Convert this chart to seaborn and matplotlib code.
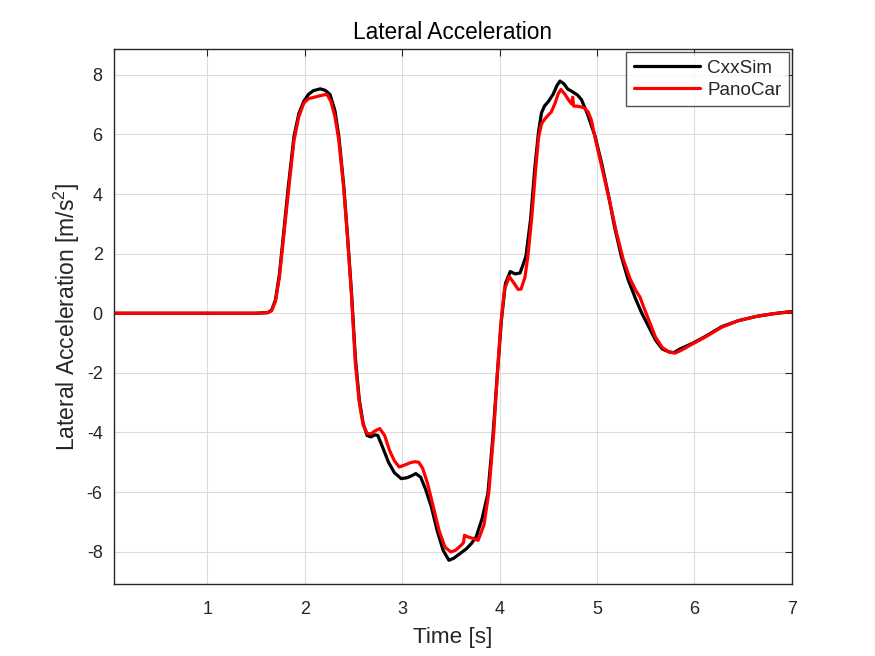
import pandas as pd
import seaborn as sns
import matplotlib
matplotlib.use("Agg")
import matplotlib.pyplot as plt

# CxxSim trace (time [s], lateral acceleration [m/s^2])
cxx_t = [0.04, 0.5, 1.0, 1.5, 1.62, 1.66, 1.70, 1.74, 1.78, 1.83, 1.89, 1.94, 1.99, 2.04, 2.09,
         2.16, 2.21, 2.26, 2.31, 2.35, 2.40, 2.44, 2.48, 2.52, 2.56, 2.60, 2.64, 2.68, 2.72, 2.75,
         2.80, 2.86, 2.92, 2.99, 3.05, 3.10, 3.14, 3.19, 3.24, 3.30, 3.36, 3.42, 3.48, 3.53, 3.60,
         3.66, 3.71, 3.76, 3.82, 3.88, 3.93, 3.98, 4.02, 4.06, 4.11, 4.16, 4.21, 4.27, 4.32, 4.36,
         4.40, 4.43, 4.46, 4.50, 4.55, 4.59, 4.62, 4.66, 4.70, 4.74, 4.80, 4.84, 4.90, 4.98, 5.05,
         5.12, 5.18, 5.25, 5.32, 5.40, 5.46, 5.53, 5.60, 5.67, 5.74, 5.79, 5.85, 5.98, 6.10, 6.28,
         6.45, 6.63, 6.80, 6.97, 7.0]
cxx_a = [0, 0, 0, 0, 0.02, 0.1, 0.45, 1.3, 2.57, 4.2, 5.94, 6.7, 7.11, 7.35, 7.47,
         7.53, 7.48, 7.34, 6.8, 5.94, 4.3, 2.57, 0.7, -1.5, -2.9, -3.7, -4.1, -4.15, -4.08, -4.1,
         -4.5, -5.0, -5.35, -5.55, -5.52, -5.45, -5.38, -5.5, -5.9, -6.5, -7.3, -7.95, -8.29, -8.22, -8.05,
         -7.9, -7.73, -7.5, -6.9, -6.05, -4.2, -1.9, -0.2, 1.0, 1.40, 1.32, 1.35, 1.9, 3.2, 4.82,
         6.1, 6.72, 6.95, 7.1, 7.35, 7.65, 7.79, 7.7, 7.52, 7.45, 7.32, 7.17, 6.7, 5.94, 5.0,
         3.92, 2.9, 1.9, 1.12, 0.45, 0.0, -0.45, -0.9, -1.2, -1.3, -1.32, -1.2, -1.01, -0.8, -0.45,
         -0.25, -0.11, -0.02, 0.05, 0.05]

# PanoCar trace
pano_t = [0.04, 0.5, 1.0, 1.5, 1.62, 1.66, 1.70, 1.74, 1.78, 1.83, 1.89, 1.94, 1.99, 2.04, 2.10,
          2.16, 2.20, 2.23, 2.27, 2.31, 2.35, 2.40, 2.44, 2.48, 2.52, 2.56, 2.60, 2.64, 2.68, 2.72,
          2.77, 2.82, 2.87, 2.92, 2.97, 3.02, 3.08, 3.13, 3.17, 3.21, 3.26, 3.32, 3.38, 3.44, 3.50,
          3.55, 3.60, 3.63, 3.64, 3.67, 3.72, 3.78, 3.84, 3.89, 3.94, 3.98, 4.01, 4.05, 4.10, 4.15,
          4.19, 4.22, 4.26, 4.29, 4.33, 4.37, 4.40, 4.43, 4.46, 4.50, 4.53, 4.57, 4.60, 4.63, 4.67,
          4.71, 4.74, 4.75, 4.76, 4.79, 4.84, 4.87, 4.91, 4.94, 5.00, 5.06, 5.13, 5.20, 5.27, 5.34,
          5.40, 5.44, 5.48, 5.54, 5.60, 5.67, 5.74, 5.80, 5.86, 5.98, 6.10, 6.28, 6.45, 6.63, 6.80,
          6.97, 7.0]
pano_a = [0, 0, 0, 0, 0.02, 0.08, 0.4, 1.2, 2.45, 4.0, 5.8, 6.6, 7.05, 7.2, 7.25,
          7.3, 7.33, 7.34, 7.1, 6.6, 5.8, 4.2, 2.5, 0.6, -1.7, -3.0, -3.75, -4.03, -4.05, -3.95,
          -3.87, -4.1, -4.6, -4.95, -5.16, -5.1, -5.02, -4.98, -5.0, -5.2, -5.7, -6.5, -7.3, -7.85, -8.01,
          -7.95, -7.8, -7.7, -7.45, -7.5, -7.55, -7.62, -7.1, -6.0, -4.0, -1.9, -0.45, 0.8, 1.23, 1.0,
          0.8, 0.81, 1.2, 1.9, 3.2, 4.82, 5.9, 6.35, 6.5, 6.65, 6.75, 7.05, 7.35, 7.51, 7.35,
          7.15, 7.02, 7.25, 6.95, 6.95, 6.92, 6.89, 6.75, 6.5, 5.6, 4.75, 3.75, 2.7, 1.8, 1.15,
          0.75, 0.55, 0.2, -0.3, -0.8, -1.15, -1.3, -1.34, -1.25, -1.03, -0.82, -0.47, -0.25, -0.11, -0.02,
          0.04, 0.04]

df = pd.concat([
    pd.DataFrame({"Time": cxx_t, "Acc": cxx_a, "Model": "CxxSim"}),
    pd.DataFrame({"Time": pano_t, "Acc": pano_a, "Model": "PanoCar"}),
], ignore_index=True)

sns.set_style("white")
plt.rcParams["font.family"] = ["Liberation Sans", "DejaVu Sans"]
plt.rcParams["mathtext.fontset"] = "custom"
plt.rcParams["mathtext.rm"] = "Liberation Sans"
plt.rcParams["mathtext.it"] = "Liberation Sans:italic"
plt.rcParams["axes.unicode_minus"] = False

fig = plt.figure(figsize=(8.75, 6.56), dpi=100)
ax = fig.add_axes([0.13, 0.11, 0.775, 0.815])

sns.lineplot(data=df, x="Time", y="Acc", hue="Model", palette={"CxxSim": "black", "PanoCar": "red"},
             estimator=None, sort=False, linewidth=2.3, ax=ax)

ax.set_xlim(0.04, 7.0)
ax.set_ylim(-9.08, 8.86)
ax.set_xticks(range(1, 8))
ax.set_yticks(range(-8, 9, 2))
ax.grid(True, color="#dcdcdc", linewidth=0.8)
ax.set_axisbelow(True)
for s in ax.spines.values():
    s.set_color("#262626")
    s.set_linewidth(1.0)
ax.tick_params(direction="in", top=True, right=True, length=5, width=0.8,
               colors="#262626", labelsize=13)
ax.tick_params(axis="x", pad=12)
ax.tick_params(axis="y", pad=8)

ax.set_title("Lateral Acceleration", fontsize=16.3, color="black", pad=7)
ax.set_xlabel("Time [s]", fontsize=16.2, color="#262626", labelpad=7)
ax.set_ylabel(r"Lateral Acceleration [m/s$^2$]", fontsize=16.5, color="#262626", labelpad=3)

leg = ax.legend(loc="upper right", fontsize=13.6, frameon=True, fancybox=False, handlelength=3.5,
                borderaxespad=0.15, borderpad=0.4, labelspacing=0.25, handletextpad=0.4)
leg.get_frame().set_edgecolor("#262626")
leg.get_frame().set_linewidth(1.0)
leg.set_title(None)

fig.savefig("out.png", dpi=100)
